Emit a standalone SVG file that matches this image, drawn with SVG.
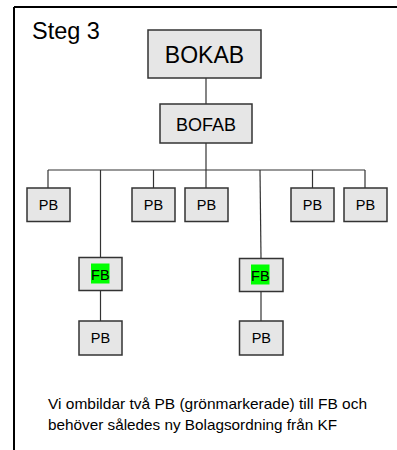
<svg xmlns="http://www.w3.org/2000/svg" width="397" height="450" viewBox="0 0 397 450">
<style>
.box{fill:#e6e6e6;stroke:#333;stroke-width:1.5}
.t{font-family:"Liberation Sans",Arial,sans-serif;fill:#000;text-anchor:middle}
.s{font-size:14.5px}
.c{stroke:#333;stroke-width:1.2;fill:none}
.hl{fill:#00ff00}
</style>
<rect width="397" height="450" fill="#fff"/>
<g id="frame">
<line x1="14" y1="7" x2="397" y2="7" stroke="#000" stroke-width="2"/>
<line x1="14" y1="7" x2="14" y2="450" stroke="#000" stroke-width="2"/>
</g>
<text x="32" y="39" font-family="Liberation Sans,Arial,sans-serif" font-size="23.5">Steg 3</text>
<g id="connectors">
<line class="c" x1="206" y1="78" x2="206" y2="104"/>
<line class="c" x1="206" y1="143" x2="206" y2="188"/>
<line class="c" x1="48" y1="170" x2="365" y2="170"/>
<line class="c" x1="48" y1="170" x2="48" y2="188"/>
<line class="c" x1="153.5" y1="170" x2="153.5" y2="188"/>
<line class="c" x1="312.5" y1="170" x2="312.5" y2="188"/>
<line class="c" x1="365" y1="170" x2="365" y2="188"/>
<line class="c" x1="100.5" y1="170" x2="100.5" y2="257"/>
<line class="c" x1="260" y1="170" x2="261" y2="258"/>
<line class="c" x1="100.5" y1="290" x2="100.5" y2="321"/>
<line class="c" x1="261" y1="291" x2="261" y2="321"/>
</g>
<g id="bokab">
<rect class="box" x="148" y="30" width="113" height="48"/>
<text class="t" x="204.5" y="63" font-size="23">BOKAB</text>
</g>
<g id="bofab">
<rect class="box" x="160" y="104" width="92" height="39"/>
<text class="t" x="206" y="130.5" font-size="18">BOFAB</text>
</g>
<g id="pb1">
<rect class="box" x="27" y="188" width="43" height="33.5"/>
<text class="t s" x="48.5" y="210">PB</text>
</g>
<g id="pb2">
<rect class="box" x="132" y="188" width="43" height="33.5"/>
<text class="t s" x="153.5" y="210">PB</text>
</g>
<g id="pb3">
<rect class="box" x="185" y="188" width="43" height="33.5"/>
<text class="t s" x="206.5" y="210">PB</text>
</g>
<g id="pb4">
<rect class="box" x="291" y="188" width="43" height="33.5"/>
<text class="t s" x="312.5" y="210">PB</text>
</g>
<g id="pb5">
<rect class="box" x="344" y="188" width="43" height="33.5"/>
<text class="t s" x="365.5" y="210">PB</text>
</g>
<g id="fb1">
<rect class="box" x="79" y="257.5" width="43" height="33"/>
<rect class="hl" x="91" y="263.5" width="18.5" height="20"/>
<text class="t s" x="100.3" y="279.5">FB</text>
</g>
<g id="fb2">
<rect class="box" x="239.5" y="258.5" width="43.5" height="33"/>
<rect class="hl" x="251" y="264.5" width="18.5" height="20"/>
<text class="t s" x="260.3" y="280.5">FB</text>
</g>
<g id="pb6">
<rect class="box" x="79" y="321" width="43" height="34"/>
<text class="t s" x="100.5" y="343">PB</text>
</g>
<g id="pb7">
<rect class="box" x="239.5" y="321" width="43.5" height="34"/>
<text class="t s" x="261.3" y="343">PB</text>
</g>
<g id="note" font-family="Liberation Sans,Arial,sans-serif" font-size="15">
<text x="48" y="409" textLength="319" lengthAdjust="spacingAndGlyphs">Vi ombildar två PB (grönmarkerade) till FB och</text>
<text x="48" y="429.5" textLength="289" lengthAdjust="spacingAndGlyphs">behöver således ny Bolagsordning från KF</text>
</g>
</svg>
